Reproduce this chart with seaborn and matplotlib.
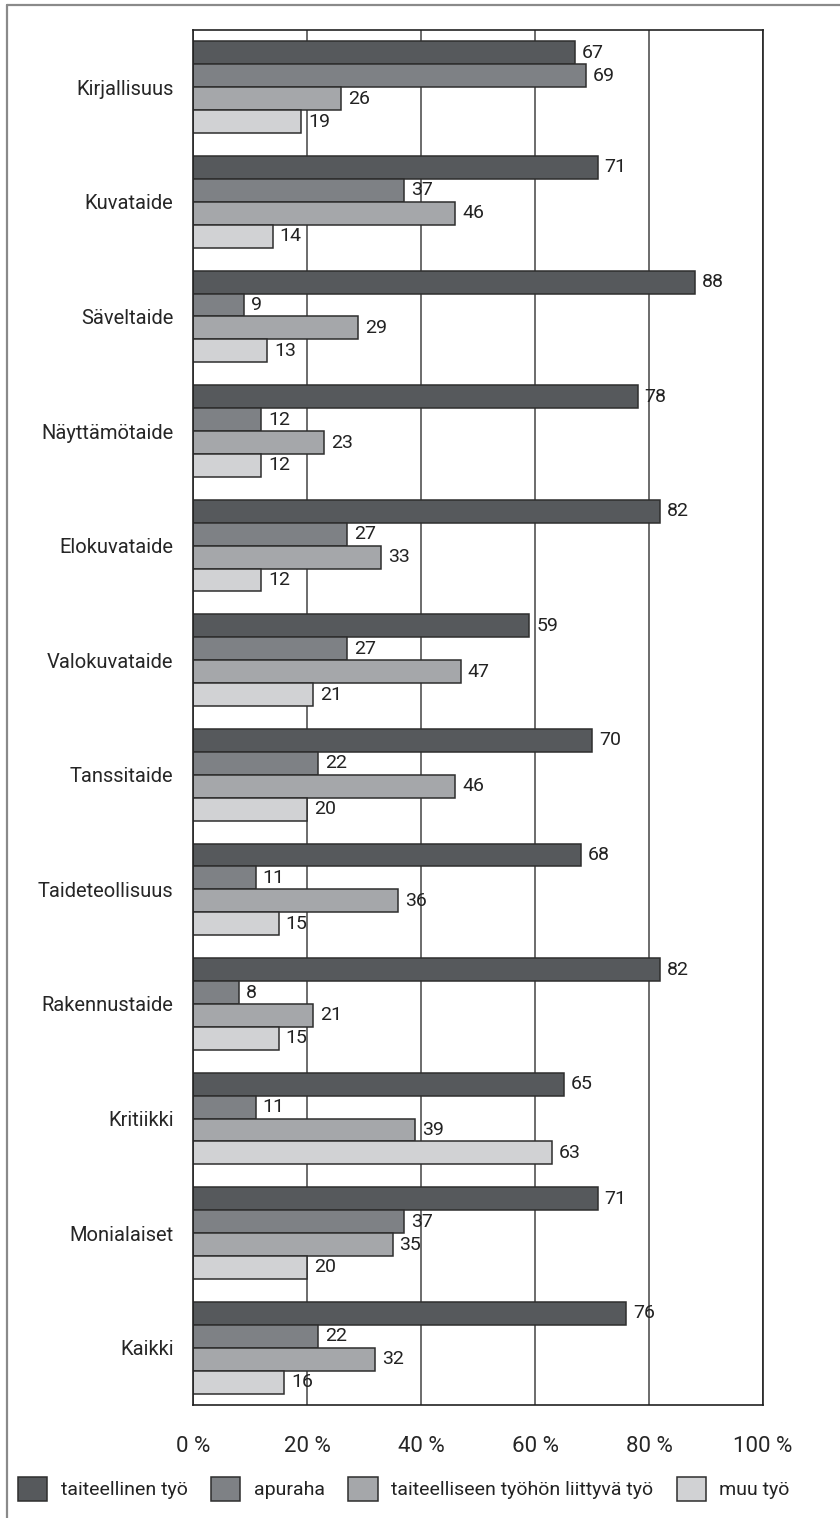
import pandas as pd
import seaborn as sns
import matplotlib.pyplot as plt
from matplotlib.lines import Line2D

# Data
categories = ['Kirjallisuus', 'Kuvataide', 'Säveltaide', 'Näyttämötaide', 'Elokuvataide',
              'Valokuvataide', 'Tanssitaide', 'Taideteollisuus', 'Rakennustaide', 'Kritiikki',
              'Monialaiset', 'Kaikki']
series = ['taiteellinen työ', 'apuraha', 'taiteelliseen työhön liittyvä työ', 'muu työ']
taiteellinen = [67, 71, 88, 78, 82, 59, 70, 68, 82, 65, 71, 76]
apuraha = [69, 37, 9, 12, 27, 27, 22, 11, 8, 11, 37, 22]
liittyva = [26, 46, 29, 23, 33, 47, 46, 36, 21, 39, 35, 32]
muu = [19, 14, 13, 12, 12, 21, 20, 15, 15, 63, 20, 16]
colors = ['#56595c', '#7e8185', '#a5a7aa', '#d1d2d4']
xticks = [0, 20, 40, 60, 80, 100]

rows = []
for s, vals in zip(series, [taiteellinen, apuraha, liittyva, muu]):
    for c, v in zip(categories, vals):
        rows.append({'ala': c, 'osuus': v, 'sarja': s})
df = pd.DataFrame(rows)

sns.set_style('white')
plt.rcParams['font.family'] = ['Roboto', 'DejaVu Sans']
plt.rcParams['text.color'] = '#222222'

fig = plt.figure(figsize=(8.4, 15.18), dpi=100)
ax = fig.add_axes([193 / 840, 1 - 1405 / 1518, 570 / 840, 1375 / 1518])

sns.barplot(data=df, y='ala', x='osuus', hue='sarja', order=categories, hue_order=series,
            palette=colors, orient='h', width=0.8, edgecolor='#2e2e2e', linewidth=1.1,
            saturation=1, ax=ax)

for cont in ax.containers:
    ax.bar_label(cont, padding=5, fontsize=14, color='#222222')

ax.set_xlim(0, 100)
ax.set_xticks(xticks)
ax.set_xticklabels([f'{t} %' for t in xticks], fontsize=16)
ax.set_ylim(len(categories) - 0.5, -0.5)
ax.tick_params(axis='x', direction='in', length=7, color='#333333', pad=22)
ax.tick_params(axis='y', length=0, pad=14, labelsize=14.5)
ax.set_xlabel('')
ax.set_ylabel('')
ax.set_axisbelow(True)
ax.grid(axis='x', color='#444444', linewidth=1.1)
ax.grid(axis='y', visible=False)
for sp in ax.spines.values():
    sp.set_color('#222222')
    sp.set_linewidth(1.2)

handles, labels = ax.get_legend_handles_labels()
ax.get_legend().remove()
fig.legend(handles, labels, loc='center', bbox_to_anchor=(404 / 840, 1 - 1489 / 1518),
           ncol=4, frameon=False, fontsize=14, handlelength=1.5, handleheight=1.5,
           handletextpad=0.7, columnspacing=1.2, borderaxespad=0)

# outer frame lines (left and top, as in the reference)
fig.add_artist(Line2D([7 / 840, 7 / 840], [0, 1 - 4.7 / 1518], transform=fig.transFigure,
                      color='#8a8a8a', linewidth=1.6))
fig.add_artist(Line2D([7 / 840, 1], [1 - 4.7 / 1518, 1 - 4.7 / 1518], transform=fig.transFigure,
                      color='#8a8a8a', linewidth=1.6))

plt.savefig('out.png', dpi=100)
plt.close()
